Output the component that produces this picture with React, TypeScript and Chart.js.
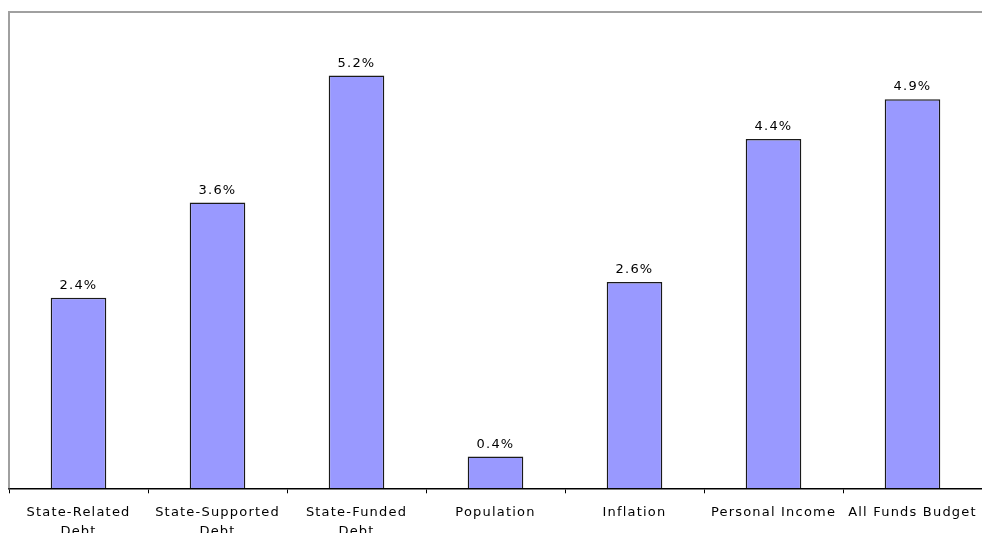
import React, { useEffect, useRef } from "react";
import { Chart, registerables } from "chart.js";

Chart.register(...registerables);

const categories: (string | string[])[] = [
  ["State-Related", "Debt"],
  ["State-Supported", "Debt"],
  ["State-Funded", "Debt"],
  "Population",
  "Inflation",
  "Personal Income",
  "All Funds Budget",
];
const growthRates = [2.4, 3.6, 5.2, 0.4, 2.6, 4.4, 4.9];
const yMin = 0;
const yMax = 6;

const FONT = '"DejaVu Sans", Verdana, sans-serif';
const LETTER_SPACING = "1.2px";

// Wider letter spacing for every text drawn on the canvas
const spacingPlugin = {
  id: "spacing",
  beforeLayout(chart: any) {
    (chart.ctx as any).letterSpacing = LETTER_SPACING;
  },
  beforeDraw(chart: any) {
    (chart.ctx as any).letterSpacing = LETTER_SPACING;
  },
};

// Gray frame on the left and top of the plot area
const framePlugin = {
  id: "frame",
  beforeDatasetsDraw(chart: any) {
    const { ctx, chartArea } = chart;
    const left = Math.round(chartArea.left);
    const top = Math.round(chartArea.top);
    ctx.save();
    ctx.fillStyle = "#a0a0a0";
    ctx.fillRect(left - 1, top - 1, 2, chartArea.bottom - top + 1);
    ctx.fillRect(left - 1, top - 1, chart.width - left + 1, 2);
    ctx.restore();
  },
};

// Percentage labels above each bar
const valueLabelPlugin = {
  id: "valueLabels",
  afterDatasetsDraw(chart: any) {
    const { ctx } = chart;
    const meta = chart.getDatasetMeta(0);
    const values = chart.data.datasets[0].data as number[];
    ctx.save();
    ctx.font = `13px ${FONT}`;
    (ctx as any).letterSpacing = LETTER_SPACING;
    ctx.fillStyle = "#000";
    ctx.textAlign = "center";
    ctx.textBaseline = "alphabetic";
    meta.data.forEach((bar: any, i: number) => {
      ctx.fillText(`${values[i].toFixed(1)}%`, bar.x, bar.y - 9);
    });
    ctx.restore();
  },
};

export default function App() {
  const canvasRef = useRef<HTMLCanvasElement | null>(null);

  useEffect(() => {
    document.body.style.margin = "0";
    document.body.style.overflow = "hidden";
    const canvas = canvasRef.current;
    if (!canvas) return;
    const chart = new Chart(canvas, {
      type: "bar",
      data: {
        labels: categories,
        datasets: [
          {
            data: growthRates,
            backgroundColor: "#9999ff",
            borderColor: "#1a1a1a",
            borderWidth: 1.5,
            borderSkipped: "bottom",
            barPercentage: 0.4,
            categoryPercentage: 1,
          },
        ],
      },
      options: {
        responsive: false,
        animation: false,
        devicePixelRatio: 1,
        layout: { padding: { left: 9, top: 12, right: 0, bottom: 0 } },
        plugins: {
          legend: { display: false },
          tooltip: { enabled: false },
        },
        scales: {
          x: {
            offset: true,
            afterFit(scale: any) {
              // plot area runs to the right edge; the last label may overhang
              scale.paddingLeft = 0;
              scale.paddingRight = 0;
            },
            grid: {
              offset: true,
              drawOnChartArea: false,
              drawTicks: true,
              tickLength: 5,
              color: "#000",
            },
            border: { display: true, color: "#000", width: 1.5 },
            ticks: {
              color: "#000",
              font: { family: FONT, size: 13, lineHeight: 1.45 },
              padding: 10,
              maxRotation: 0,
              autoSkip: false,
            },
          },
          y: {
            display: false,
            min: yMin,
            max: yMax,
          },
        },
      },
      plugins: [spacingPlugin, framePlugin, valueLabelPlugin],
    });
    return () => chart.destroy();
  }, []);

  return (
    <div style={{ position: "absolute", left: 0, top: 0, width: 982, height: 551 }}>
      <canvas ref={canvasRef} width={982} height={551} style={{ display: "block" }} />
    </div>
  );
}
